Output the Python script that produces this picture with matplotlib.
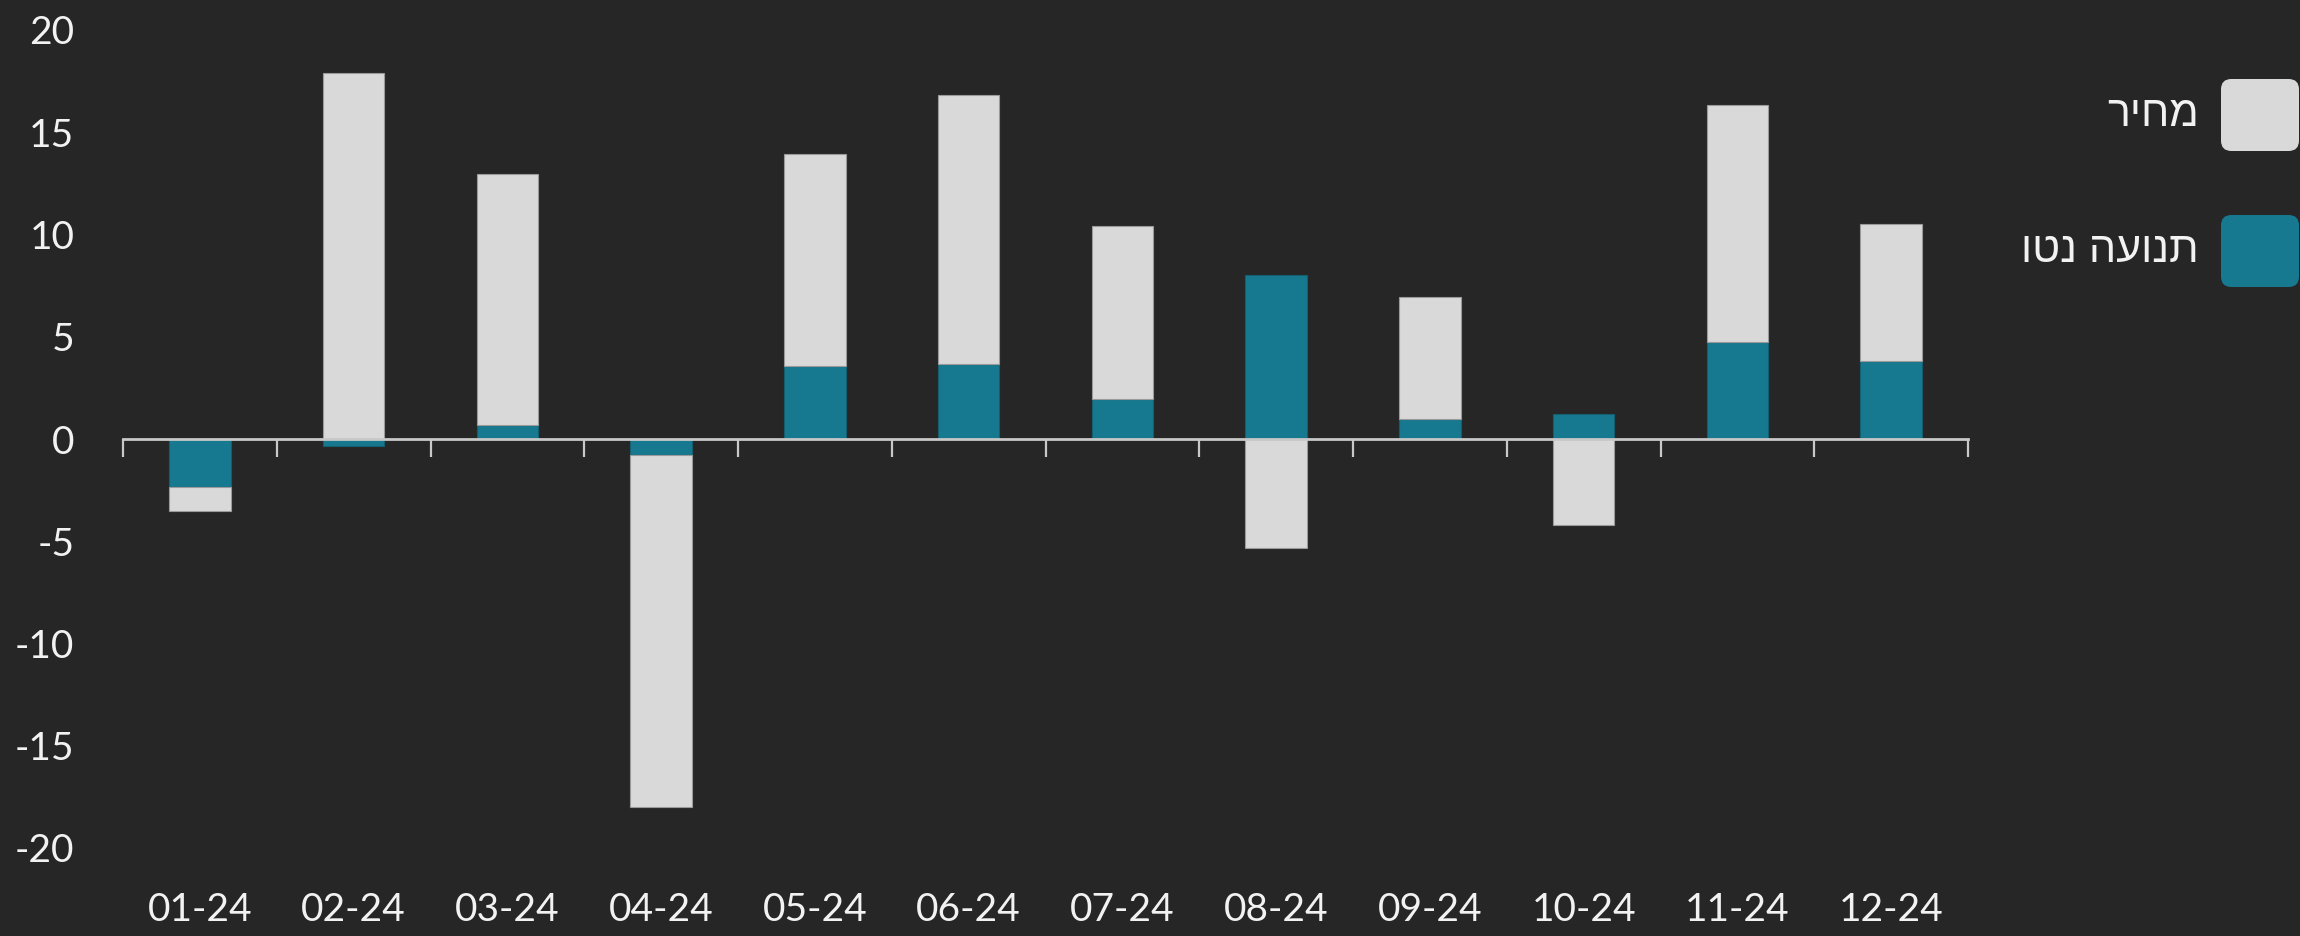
import numpy as np
import matplotlib
matplotlib.use("Agg")
import matplotlib.pyplot as plt
from matplotlib.patches import FancyBboxPatch

# ---- data ----
months = ["01-24", "02-24", "03-24", "04-24", "05-24", "06-24",
          "07-24", "08-24", "09-24", "10-24", "11-24", "12-24"]
net_flow = [-2.37, -0.36, 0.67, -0.76, 3.58, 3.69, 1.95, 8.03, 0.98, 1.23, 4.73, 3.80]
price = [-1.17, 17.89, 12.29, -17.23, 10.36, 13.14, 8.47, -5.32, 5.98, -4.20, 11.61, 6.69]
series_labels = ["מחיר", "תנועה נטו"]          # price, net flow
yticks = [20, 15, 10, 5, 0, -5, -10, -15, -20]

BG = "#262626"
GRAY = "#d9d9d9"
TEAL = "#177990"
AXC = "#c8c8c8"
TXT = "#f2f2f2"

plt.rcParams['font.family'] = ['Lato', 'DejaVu Sans']

fig = plt.figure(figsize=(23, 9.36), dpi=100, facecolor=BG)
ax = fig.add_axes([123/2300, 1-848/936, (1968-123)/2300, (848-30)/936])
ax.set_facecolor(BG)

x = np.arange(len(months))
nf = np.array(net_flow)
pr = np.array(price)
bottom_pr = np.where(np.sign(pr) == np.sign(nf), nf, 0.0)

w = 0.40
ax.bar(x, nf, width=w, color=TEAL, edgecolor="#135f70", linewidth=0.8, zorder=2)
ax.bar(x, pr, width=w, bottom=bottom_pr, color=GRAY, edgecolor="#9a9a9a", linewidth=0.8, zorder=2)

ax.set_xlim(-0.5, len(months) - 0.5)
ax.set_ylim(-20, 20)

for s in ax.spines.values():
    s.set_visible(False)

ax.set_yticks(yticks)
ax.set_yticklabels([str(v) for v in yticks])
ax.tick_params(axis='y', length=0, pad=35, labelsize=28, labelcolor=TXT)

ax.set_xticks(x)
ax.set_xticklabels(months)
ax.tick_params(axis='x', length=0, pad=32, labelsize=28, labelcolor=TXT)

# zero axis with boundary ticks (pointing down)
frac = (0 - ax.get_ylim()[0]) / (ax.get_ylim()[1] - ax.get_ylim()[0])
sec = ax.secondary_xaxis(frac)
for nm, sp in sec.spines.items():
    sp.set_color(AXC)
    sp.set_linewidth(2)
sec.set_xticks(np.arange(len(months) + 1) - 0.5)
sec.set_xticklabels([])
sec.tick_params(axis='x', which='both', direction='in', length=13, width=1.6, color=AXC,
                top=True, bottom=False, labeltop=False, labelbottom=False)
sec.set_zorder(3)

# legend
leg_colors = [GRAY, TEAL]
leg_y = [115, 251]
for lab, col, yc in zip(series_labels, leg_colors, leg_y):
    sw, sh = 78, 72
    x0 = 2221 / 2300
    y0 = 1 - (yc + sh/2) / 936
    p = FancyBboxPatch((x0, y0), sw/2300, sh/936,
                       boxstyle="round,pad=0,rounding_size=0.0045",
                       transform=fig.transFigure, facecolor=col, edgecolor='none',
                       mutation_aspect=2300/936)
    fig.patches.append(p)
    fig.text(2199/2300, 1 - yc/936, lab[::-1], ha='right', va='center',
             fontsize=31, color=TXT, family=['Liberation Sans', 'DejaVu Sans'])

fig.savefig("out.png", dpi=100, facecolor=BG)
